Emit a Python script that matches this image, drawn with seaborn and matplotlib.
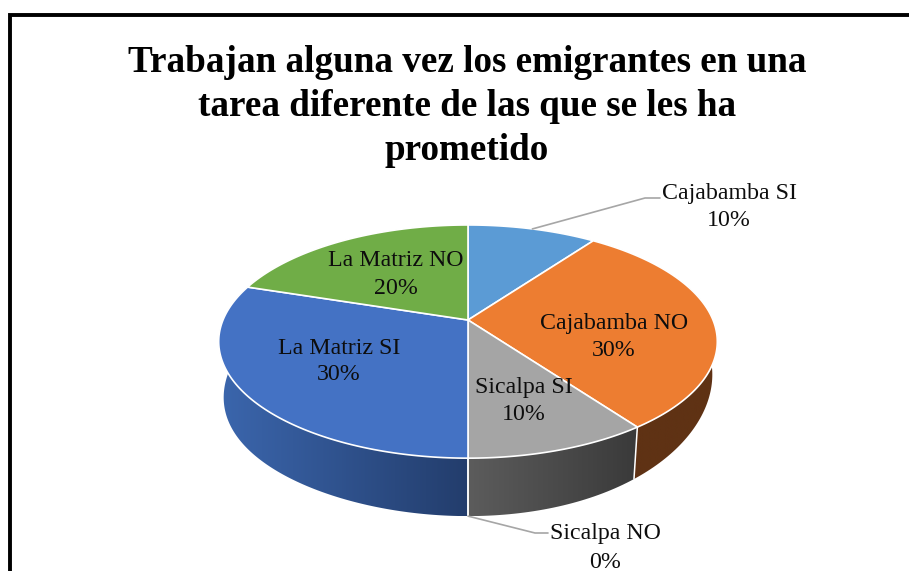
import numpy as np
import matplotlib
matplotlib.use("Agg")
import matplotlib.pyplot as plt
from matplotlib.patches import Polygon
import seaborn as sns

categories = ["Cajabamba SI", "Cajabamba NO", "Sicalpa SI", "Sicalpa NO", "La Matriz SI", "La Matriz NO"]
values = [10, 30, 10, 0, 30, 20]
title_lines = ["Trabajan alguna vez los emigrantes en una",
               "tarea diferente de las que se les ha",
               "prometido"]

top_colors = ["#5b9bd5", "#ed7d31", "#a5a5a5", "#ffc000", "#4472c4", "#70ad47"]
wall_left = ["#3d6f9c", "#5f3214", "#5c5c5c", "#8a6d00", "#3b66ad", "#4a7a2e"]
wall_right = ["#3d6f9c", "#5f3214", "#3a3a3a", "#8a6d00", "#233d6c", "#4a7a2e"]

# label centres in pixels (name line, percent line)
label_pos = [(729, 193, 221), (614, 323, 350), (524, 388, 415),
             (605, 534, 562), (339, 348, 375), (396, 260, 288)]

sns.set_theme(style="white")
plt.rcParams["font.family"] = ["Liberation Serif", "DejaVu Serif"]

# perspective of the pie disc, fitted on the picture
CX, CY = 468, 320
A, B, K = 245, 112.6, 0.185
# bottom rim: lower centre, deeper ellipse, slight twist to the right
BOT_DY, BOT_B, BOT_S, BOT_E = 42, 125.6, 0.98, 12


def project(theta, bottom=False):
    u, v = np.sin(theta), np.cos(theta)
    d = 1 + K * v
    if bottom:
        return CX + BOT_S * A * u / d, CY + BOT_DY - BOT_B * v / d - BOT_E * u ** 3
    return CX + A * u / d, CY - B * v / d


def rim(t0, t1, bottom=False):
    t = np.linspace(t0, t1, max(int(abs(t1 - t0) * 60), 2))
    x, y = project(t, bottom)
    return np.column_stack([x, y])


fig = plt.figure(figsize=(9.09, 5.71), dpi=100)
ax = fig.add_axes([0, 0, 1, 1])
ax.axis("off")

fractions = np.array(values) / sum(values)
edges = np.concatenate([[0], np.cumsum(fractions)]) * 2 * np.pi

# walls first, the top of the pie covers whatever is at the back
for i in range(len(values)):
    if values[i] == 0:
        continue
    t0, t1 = edges[i], edges[i + 1]
    pts = np.vstack([rim(t0, t1), rim(t0, t1, True)[::-1]])
    wall = Polygon(pts, closed=True, facecolor="none", edgecolor="none")
    ax.add_patch(wall)
    grad = sns.blend_palette([wall_left[i], wall_right[i]], n_colors=128)
    img = np.array(grad)[np.newaxis, :, :]
    im = ax.imshow(img, aspect="auto", zorder=2,
                   extent=[pts[:, 0].min(), pts[:, 0].max(), pts[:, 1].max(), pts[:, 1].min()])
    im.set_clip_path(wall)

# white seams between the walls on the front
for i in range(len(values)):
    t = edges[i]
    if np.pi * 0.5 < t <= np.pi * 1.02:
        xt, yt = project(t)
        xb, yb = project(t, True)
        ax.plot([xt, xb], [yt, yb], color="white", lw=1.1, zorder=3)

for i in range(len(values)):
    if values[i] == 0:
        continue
    pts = np.vstack([[CX, CY], rim(edges[i], edges[i + 1])])
    ax.add_patch(Polygon(pts, closed=True, facecolor=top_colors[i], edgecolor="white",
                         lw=1.2, joinstyle="round", zorder=4))

# leader lines of the two outside labels
for i, (kx, ky) in zip([0, 3], [(645, 198), (535, 533)]):
    mid = (edges[i] + edges[i + 1]) / 2
    sx, sy = project(mid, values[i] == 0)
    end = 660 if i == 0 else 548
    ax.plot([sx, kx, end], [sy, ky, ky], color="#a6a6a6", lw=1.2, zorder=5,
            solid_joinstyle="round")

for name, val, (x, y1, y2) in zip(categories, values, label_pos):
    ax.text(x, y1, name, ha="center", va="center", fontsize=17.2, color="#0d0d0d", zorder=6)
    ax.text(x, y2, f"{val}%", ha="center", va="center", fontsize=17.2, color="#0d0d0d", zorder=6)

for line, y in zip(title_lines, [63, 107, 150]):
    ax.text(467, y, line, ha="center", va="center", fontsize=26.75, fontweight="bold", color="black")

# chart border, only left and top reach into the crop
ax.plot([10, 10, 909], [571, 14.5, 14.5], color="black", lw=2.8, solid_joinstyle="miter", zorder=7)

ax.set_xlim(0, 909)
ax.set_ylim(571, 0)
fig.savefig("out.png", dpi=100, facecolor="white")
